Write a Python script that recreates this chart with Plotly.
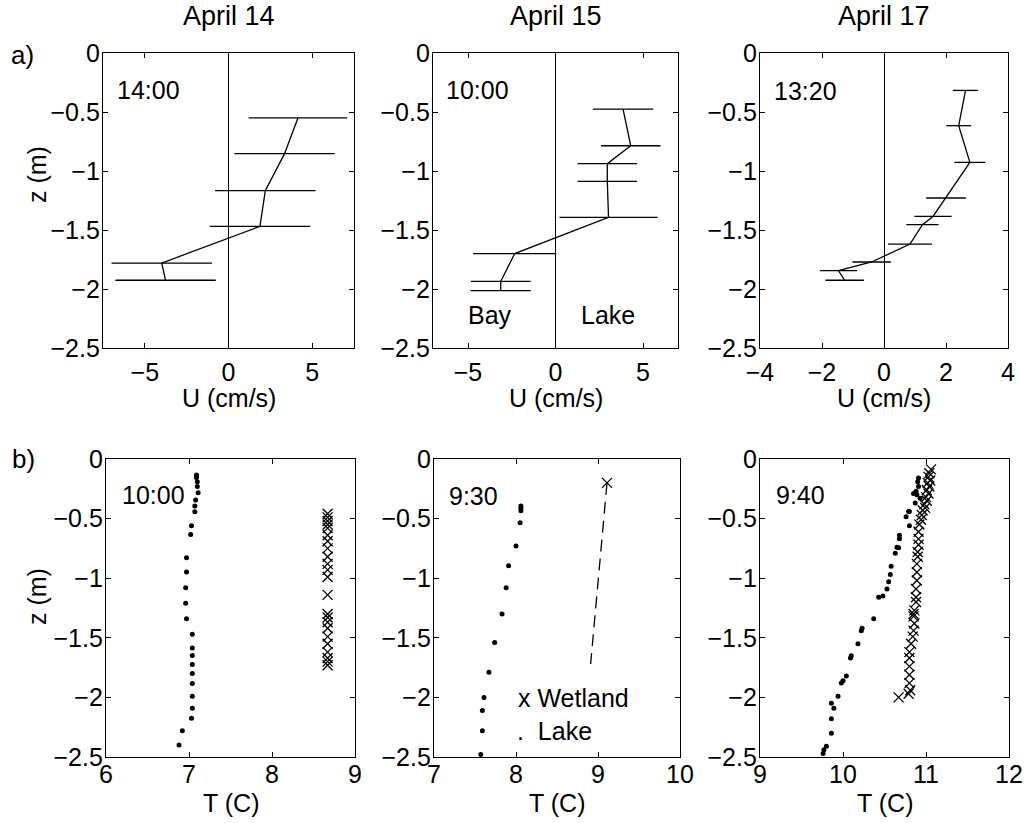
import plotly.graph_objects as go

W, H = 1027, 823          # picture size
FONT = "Liberation Sans, Arial, Helvetica, sans-serif"
FS = 25

# ---------------- data ----------------
# (a) velocity profiles: U (cm/s), depth z (m), error half-width
u14 = [4.15, 3.35, 2.2, 1.88, -3.99, -3.76]
z14 = [-0.55, -0.853, -1.167, -1.469, -1.78, -1.926]
e14 = [2.95, 3.0, 3.0, 3.0, 3.0, 3.0]

u15 = [3.86, 4.3, 2.96, 2.96, 3.03, -2.33, -3.13, -3.13]
z15 = [-0.475, -0.786, -0.938, -1.088, -1.393, -1.70, -1.935, -2.014]
e15 = [1.73, 1.7, 1.7, 1.7, 2.8, 2.38, 1.71, 1.72]

u17 = [2.63, 2.41, 2.77, 2.0, 1.58, 1.24, 0.84, -0.4, -1.47, -1.27]
z17 = [-0.317, -0.616, -0.927, -1.229, -1.385, -1.455, -1.619, -1.771, -1.845, -1.926]
e17 = [0.41, 0.4, 0.5, 0.64, 0.6, 0.52, 0.71, 0.62, 0.6, 0.62]

# (b) temperature profiles
t14_lake = [7.09, 7.09, 7.10, 7.10, 7.11, 7.08, 7.07, 7.07, 7.03, 7.02, 6.97, 6.97, 6.96,
            6.96, 6.97, 7.04, 7.04, 7.04, 7.04, 7.04, 7.04, 7.04, 7.04, 7.03, 6.92, 6.88]
z14_lake = [-0.134, -0.155, -0.19, -0.23, -0.283, -0.344, -0.395, -0.442, -0.56, -0.633,
            -0.829, -0.949, -1.08, -1.21, -1.34, -1.47, -1.585, -1.649, -1.725, -1.80,
            -1.884, -1.99, -2.091, -2.175, -2.28, -2.40]
z14_wet = [-0.46, -0.49, -0.52, -0.55, -0.58, -0.64, -0.69, -0.75, -0.82, -0.88, -0.93,
           -0.99, -1.14, -1.30, -1.33, -1.37, -1.42, -1.49, -1.55, -1.62, -1.67, -1.70, -1.73]
t14_wet = [8.67] * len(z14_wet)

t15_lake = [8.06, 8.06, 8.06, 8.05, 8.0, 7.91, 7.88, 7.83, 7.74, 7.67, 7.61, 7.59, 7.59, 7.57]
z15_lake = [-0.395, -0.414, -0.434, -0.535, -0.73, -0.896, -1.08, -1.30, -1.54, -1.79,
            -2.0, -2.11, -2.28, -2.48]
t15_wet = [9.11, 8.91]
z15_wet = [-0.2, -1.72]

t17_lake = [9.76, 9.77, 9.80, 9.86, 9.86, 9.89, 9.86, 9.94, 9.98, 10.00, 10.04, 10.09, 10.10,
            10.18, 10.22, 10.23, 10.37, 10.43, 10.48, 10.53, 10.55, 10.57, 10.58, 10.63,
            10.65, 10.67, 10.68, 10.68, 10.80, 10.76, 10.79, 10.80, 10.87, 10.85, 10.89,
            10.88, 10.93, 10.91, 10.90, 10.91]
z17_lake = [-2.47, -2.44, -2.41, -2.30, -2.18, -2.09, -2.05, -1.99, -1.88, -1.86, -1.82,
            -1.67, -1.65, -1.55, -1.44, -1.42, -1.34, -1.16, -1.15, -1.09, -1.03, -0.97,
            -0.90, -0.79, -0.74, -0.745, -0.67, -0.64, -0.56, -0.485, -0.44, -0.44, -0.37,
            -0.29, -0.30, -0.27, -0.33, -0.23, -0.19, -0.16]
t17_wet = [11.06, 11.04, 11.03, 11.05, 11.02, 11.04, 11.01, 11.03, 11.00, 11.01, 10.98,
           10.99, 10.96, 10.95, 10.94, 10.92, 10.91, 10.91, 10.91, 10.90, 10.90, 10.89,
           10.89, 10.89, 10.88, 10.88, 10.88, 10.86, 10.85, 10.85, 10.86, 10.85, 10.84,
           10.82, 10.80, 10.80, 10.80, 10.80, 10.80, 10.81, 10.79, 10.67]
z17_wet = [-0.087, -0.12, -0.15, -0.18, -0.20, -0.23, -0.26, -0.29, -0.32, -0.35, -0.38,
           -0.41, -0.43, -0.47, -0.51, -0.55, -0.61, -0.67, -0.72, -0.78, -0.82, -0.88,
           -0.95, -1.02, -1.09, -1.16, -1.20, -1.27, -1.30, -1.32, -1.38, -1.44, -1.49,
           -1.55, -1.62, -1.67, -1.74, -1.81, -1.88, -1.94, -1.97, -2.00]

dates = ["April 14", "April 15", "April 17"]
times_a = ["14:00", "10:00", "13:20"]
times_b = ["10:00", "9:30", "9:40"]
xranges_a = [[-7.5, 7.5], [-7, 7], [-4, 4]]
xticks_a = [[-5, 0, 5], [-5, 0, 5], [-4, -2, 0, 2, 4]]
xranges_b = [[6, 9], [7, 10], [9, 12]]
xticks_b = [[6, 7, 8, 9], [7, 8, 9, 10], [9, 10, 11, 12]]
yticks = [0, -0.5, -1, -1.5, -2, -2.5]

# ---------------- layout helpers (picture pixels -> paper fractions) ----------------
def fx(x):
    return x / W

def fy(y):
    return 1 - y / H

a_x = [(103, 354), (433, 678), (760, 1008)]
b_x = [(106, 355), (434, 680), (760, 1009)]
a_y = (53, 348)
b_y = (459, 757)

fig = go.Figure()

def axis_style(rng, ticks, dom, anchor, standoff, zeroline=False):
    return dict(range=rng, tickvals=ticks, domain=dom, anchor=anchor,
                showline=True, mirror="ticks", linecolor="black", linewidth=1.3,
                ticks="inside", ticklen=5, tickwidth=1, tickcolor="black",
                showgrid=False, zeroline=zeroline, zerolinecolor="black", zerolinewidth=1.2,
                ticklabelstandoff=standoff, ticklabeloverflow="allow",
                tickfont=dict(family=FONT, size=FS, color="black"))

layout = dict(width=W, height=H, margin=dict(l=0, r=0, t=0, b=0, autoexpand=False),
              paper_bgcolor="white", plot_bgcolor="white", showlegend=False,
              font=dict(family=FONT, size=FS, color="black"))

for i in range(3):
    n = i + 1
    xd = [fx(a_x[i][0]), fx(a_x[i][1])]
    yd = [fy(a_y[1]), fy(a_y[0])]
    layout["xaxis" if n == 1 else f"xaxis{n}"] = axis_style(
        xranges_a[i], xticks_a[i], xd, "y" if n == 1 else f"y{n}", 2, zeroline=True)
    layout["yaxis" if n == 1 else f"yaxis{n}"] = axis_style(
        [-2.5, 0], yticks, yd, "x" if n == 1 else f"x{n}", -3)
    m = i + 4
    xd = [fx(b_x[i][0]), fx(b_x[i][1])]
    yd = [fy(b_y[1]), fy(b_y[0])]
    layout[f"xaxis{m}"] = axis_style(xranges_b[i], xticks_b[i], xd, f"y{m}", -5)
    layout[f"yaxis{m}"] = axis_style([-2.5, 0], yticks, yd, f"x{m}", -3)

fig.update_layout(**layout)

# ---------------- traces ----------------
for n, (u, z, e) in enumerate([(u14, z14, e14), (u15, z15, e15), (u17, z17, e17)], start=1):
    fig.add_trace(go.Scatter(
        x=u, y=z, mode="lines", line=dict(color="black", width=1.3),
        error_x=dict(type="data", array=e, visible=True, width=0, thickness=1.3, color="black"),
        xaxis="x" if n == 1 else f"x{n}", yaxis="y" if n == 1 else f"y{n}"))

dot = dict(color="black", size=5, symbol="circle")
xm = dict(color="black", size=10, symbol="x-thin-open", line=dict(color="black", width=1.3))

fig.add_trace(go.Scatter(x=t14_lake, y=z14_lake, mode="markers", marker=dot, xaxis="x4", yaxis="y4"))
fig.add_trace(go.Scatter(x=t14_wet, y=z14_wet, mode="markers", marker=xm, xaxis="x4", yaxis="y4"))
fig.add_trace(go.Scatter(x=t15_lake, y=z15_lake, mode="markers", marker=dot, xaxis="x5", yaxis="y5"))
fig.add_trace(go.Scatter(x=t15_wet, y=z15_wet, mode="lines",
                         line=dict(color="black", width=1.3, dash="12px,7px"),
                         xaxis="x5", yaxis="y5"))
fig.add_trace(go.Scatter(x=t15_wet[:1], y=z15_wet[:1], mode="markers", marker=xm,
                         xaxis="x5", yaxis="y5"))
fig.add_trace(go.Scatter(x=t17_lake, y=z17_lake, mode="markers", marker=dot, xaxis="x6", yaxis="y6"))
fig.add_trace(go.Scatter(x=t17_wet, y=z17_wet, mode="markers", marker=xm, xaxis="x6", yaxis="y6"))

# ---------------- text ----------------
ann = []
def text(t, x, y, size=FS, xanchor="center", angle=0):
    ann.append(dict(text=t, x=fx(x), y=fy(y), xref="paper", yref="paper", showarrow=False,
                    xanchor=xanchor, yanchor="middle", textangle=angle,
                    font=dict(family=FONT, size=size, color="black")))

for i in range(3):
    cx_a = (a_x[i][0] + a_x[i][1]) / 2
    cx_b = (b_x[i][0] + b_x[i][1]) / 2
    text(dates[i], cx_a, 16, size=27)
    text("U (cm/s)", cx_a, 398)
    text("T (C)", cx_b, 803)

text(times_a[0], 148, 90)
text(times_a[1], 477, 90)
text(times_a[2], 805, 91)
text(times_b[0], 153, 495)
text(times_b[1], 473, 496)
text(times_b[2], 800, 495)

text("Bay", 490, 315)
text("Lake", 608, 315)
text("x Wetland", 516, 698, xanchor="left")
text(".  Lake", 515, 731, xanchor="left")

text("a)", 22, 55, size=26)
text("b)", 23, 459, size=26)
text("z (m)", 37, 175, angle=-90)
text("z (m)", 37, 597, angle=-90)

fig.update_layout(annotations=ann)
fig.write_html("out.html", config={"displayModeBar": False},
               post_script="document.body.style.margin='0px';document.body.style.overflow='hidden';")
